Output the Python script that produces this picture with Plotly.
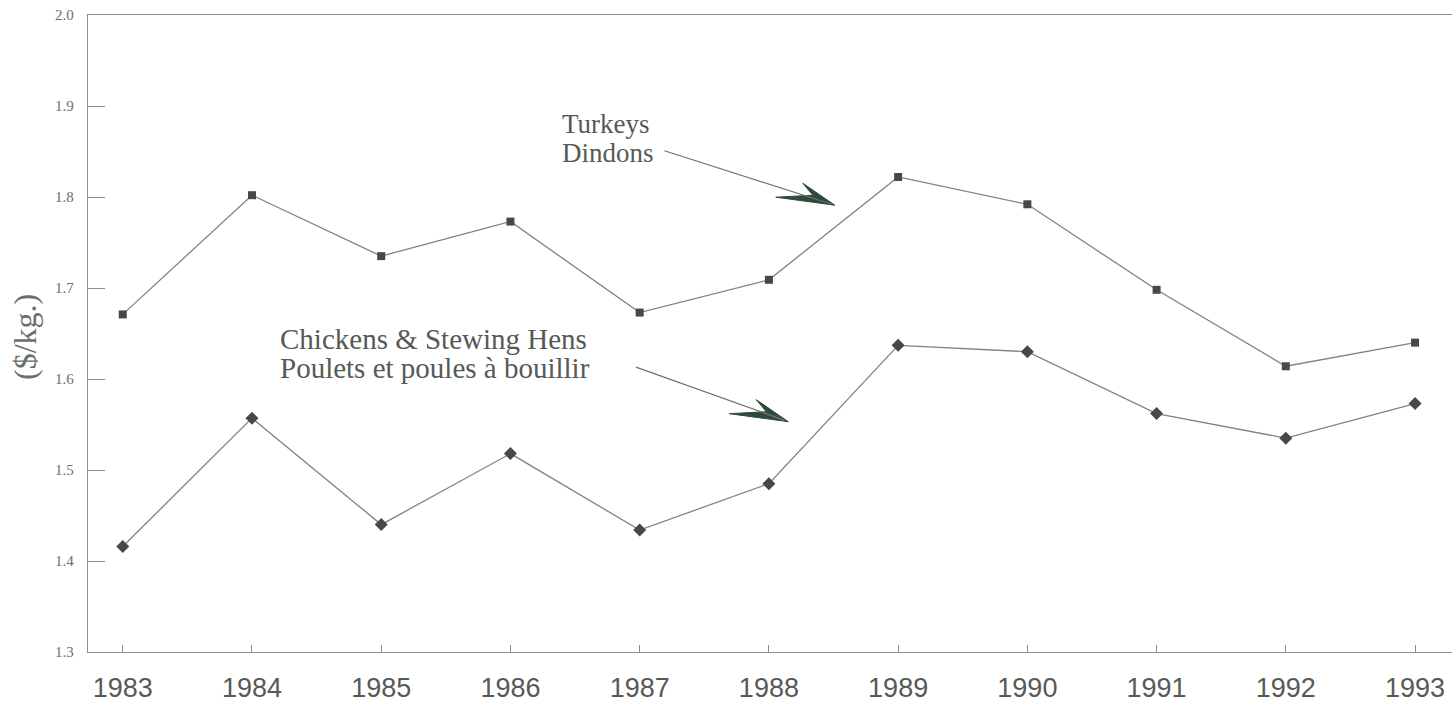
import plotly.graph_objects as go

years = [1983, 1984, 1985, 1986, 1987, 1988, 1989, 1990, 1991, 1992, 1993]
turkeys = [1.671, 1.802, 1.735, 1.773, 1.673, 1.709, 1.822, 1.792, 1.698, 1.614, 1.640]
chickens = [1.416, 1.557, 1.440, 1.518, 1.434, 1.485, 1.637, 1.630, 1.562, 1.535, 1.573]
y_ticks = [1.3, 1.4, 1.5, 1.6, 1.7, 1.8, 1.9, 2.0]
y_title = "($/kg.)"
turkey_lines = ["Turkeys", "Dindons"]
chicken_lines = ["Chickens & Stewing Hens", "Poulets et poules à bouillir"]

serif = "Liberation Serif, Times New Roman, serif"
sans = "Liberation Sans, Arial, sans-serif"
text_color = "#555a57"
shaft_color = "#6d736f"
head_color = "#2f4a3a"

fig = go.Figure()
fig.add_trace(go.Scatter(
    x=years, y=turkeys, mode="lines+markers", name="Turkeys",
    line=dict(color="#7f847f", width=1.3),
    marker=dict(symbol="square", size=8, color="#454a47"),
))
fig.add_trace(go.Scatter(
    x=years, y=chickens, mode="lines+markers", name="Chickens",
    line=dict(color="#7f847f", width=1.3),
    marker=dict(symbol="diamond", size=10, color="#454a47"),
))

# label text lines (data coordinates)
for txt, yy in zip(turkey_lines, [1.880, 1.848]):
    fig.add_annotation(x=1986.385, y=yy, xref="x", yref="y", text=txt,
                       showarrow=False, xanchor="left", yanchor="middle",
                       font=dict(family=serif, size=27, color=text_color))
for txt, yy in zip(chicken_lines, [1.6445, 1.6125]):
    fig.add_annotation(x=1984.20, y=yy, xref="x", yref="y", text=txt,
                       showarrow=False, xanchor="left", yanchor="middle",
                       font=dict(family=serif, size=29, color=text_color))

# arrow shafts (tail -> tip, data coordinates)
arrows = [
    dict(tail=(1987.18, 1.8514), tip=(1988.51, 1.791)),
    dict(tail=(1986.96, 1.6137), tip=(1988.15, 1.5531)),
]
head_path = "M0,0 L-32,22 L-22,10 L-59,8 Z"
for a in arrows:
    fig.add_annotation(x=a["tip"][0], y=a["tip"][1], ax=a["tail"][0], ay=a["tail"][1],
                       xref="x", yref="y", axref="x", ayref="y", text="",
                       showarrow=True, arrowhead=0, arrowwidth=1.2,
                       arrowcolor=shaft_color, standoff=4)
    fig.add_shape(type="path", xref="x", yref="y", xsizemode="pixel", ysizemode="pixel",
                  xanchor=a["tip"][0], yanchor=a["tip"][1], path=head_path,
                  fillcolor=head_color, line=dict(color=head_color, width=1))

fig.add_annotation(x=-0.0462, y=0.4945, xref="paper", yref="paper", text=y_title,
                   showarrow=False, textangle=-90, xanchor="center", yanchor="middle",
                   font=dict(family=serif, size=32, color="#6a6f6c"))

fig.update_layout(
    width=1452, height=702,
    margin=dict(l=88, r=0, t=15, b=50, autoexpand=False),
    paper_bgcolor="white", plot_bgcolor="white",
    showlegend=False,
    xaxis=dict(
        range=[1982.731, 1993.286], tickmode="array", tickvals=years,
        ticktext=[str(y) for y in years],
        showline=True, linecolor="#8a8f8c", linewidth=1.3, mirror=True,
        ticks="inside", ticklen=7, tickcolor="#8a8f8c",
        showgrid=False, zeroline=False, automargin=False,
        tickfont=dict(family=sans, size=27, color="#555a57"),
        ticklabelstandoff=11,
    ),
    yaxis=dict(
        range=[1.3, 2.0], tickmode="array", tickvals=y_ticks,
        ticktext=[f"{v:.1f}" for v in y_ticks],
        showline=True, linecolor="#8a8f8c", linewidth=1.3,
        ticks="inside", ticklen=17, tickcolor="#8a8f8c",
        showgrid=False, zeroline=False, automargin=False,
        tickfont=dict(family=serif, size=15, color="#6a6f6c"),
        ticklabelstandoff=10,
    ),
)

fig.write_html("out.html", config={"displayModeBar": False},
               post_script="document.body.style.margin='0px';")
